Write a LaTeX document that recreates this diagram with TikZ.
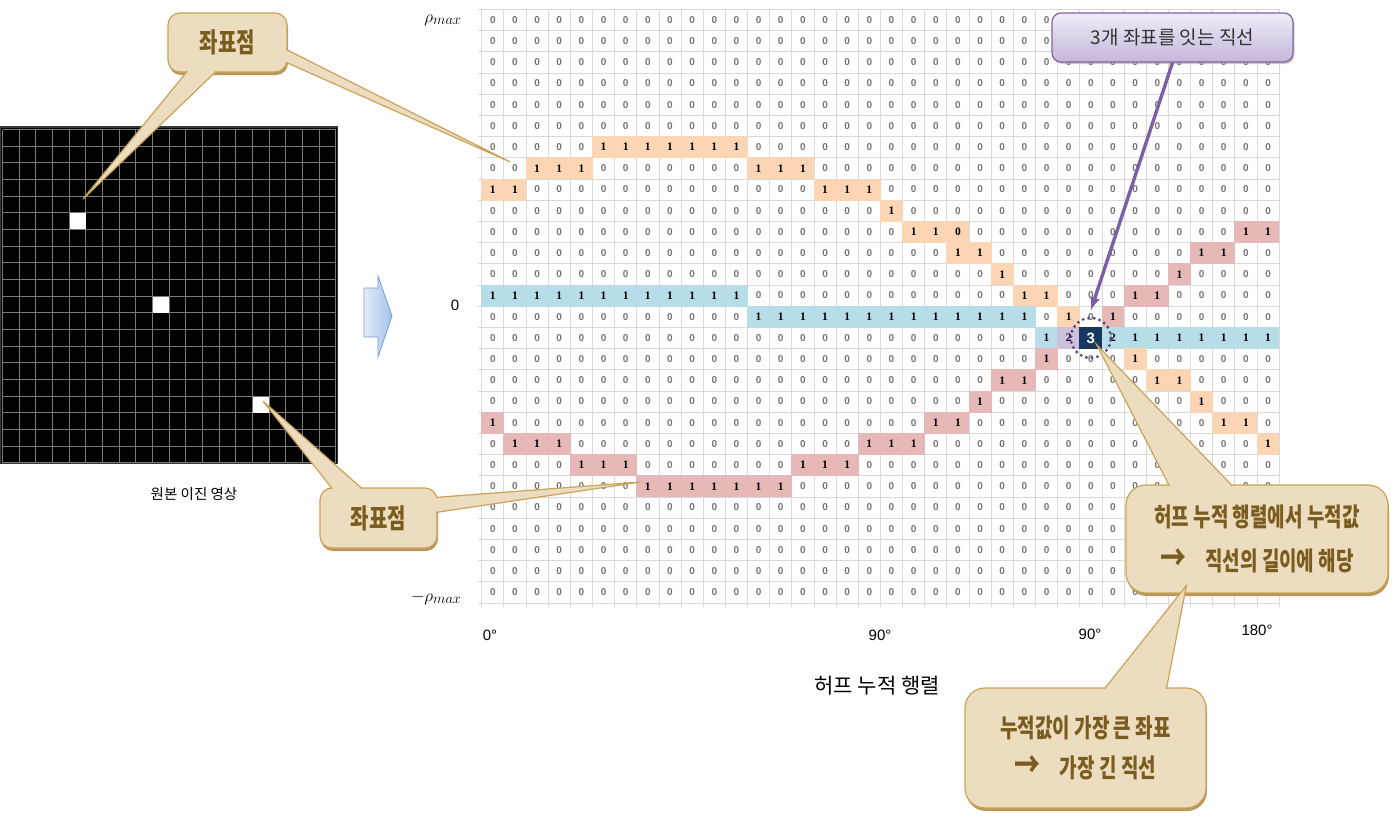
\documentclass[tikz,border=0pt]{standalone}
\usepackage{fontspec}
\setmainfont{Liberation Sans}
\newfontfamily\krfont{Noto Sans CJK KR}
\newfontfamily\onefont{Liberation Serif}
\usetikzlibrary{calc,shadows}

\definecolor{hfOrange}{HTML}{FCD5B4}
\definecolor{hfRed}{HTML}{E6B9B8}
\definecolor{hfBlue}{HTML}{B7DEE8}
\definecolor{hfPurple}{HTML}{CCC0DA}
\definecolor{hfNavy}{HTML}{17375E}
\definecolor{gridGray}{HTML}{D9D9D9}
\definecolor{zeroGray}{HTML}{757575}
\definecolor{noteFill}{HTML}{ECDDC1}
\definecolor{noteLine}{HTML}{C9A458}
\definecolor{noteText}{HTML}{7A5C1E}
\definecolor{noteShade}{HTML}{B8975A}
\definecolor{lilacLine}{HTML}{8064A2}
\definecolor{lilacTop}{HTML}{F1ECF7}
\definecolor{lilacBot}{HTML}{C5B6DB}
\definecolor{lilacArrow}{HTML}{7E5FA6}
\definecolor{ringPurple}{HTML}{5B3F8C}
\definecolor{arrowLeft}{HTML}{E3ECF8}
\definecolor{arrowRight}{HTML}{A4C2EC}
\definecolor{arrowLine}{HTML}{7A9CD0}

\newcommand\tallkr[1]{\scalebox{1}[1.35]{#1}}

\tikzset{
  hcell/.style={minimum width=22.15pt, minimum height=21.2pt, inner sep=0pt},
  cell0/.style={hcell, text=zeroGray, font=\bfseries\fontsize{10}{10}\selectfont},
  cellhit/.style={hcell, minimum width=22.9pt, minimum height=22pt,
    font=\onefont\bfseries\fontsize{11.5}{11.5}\selectfont},
  cello/.style={cellhit, fill=hfOrange},
  cellr/.style={cellhit, fill=hfRed},
  cellb/.style={cellhit, fill=hfBlue},
  cellp/.style={cellhit, fill=hfPurple},
  celln/.style={cellhit, fill=hfNavy, text=white, font=\bfseries\fontsize{15}{15}\selectfont},
  hgrid/.style={draw=gridGray, line width=0.8pt},
  pixgrid/.style={draw=black!52, line width=0.9pt},
  pixel/.style={fill=white, minimum size=16pt, inner sep=0pt},
  notebox/.style={draw=noteLine, fill=noteFill, line width=1.2pt, rounded corners=12pt,
    text=noteText, align=center,
    drop shadow={shadow xshift=1pt, shadow yshift=-3pt, fill=noteShade, opacity=1}},
  notetip/.style={draw=noteLine, fill=noteFill, line width=1.2pt},
  lilacbox/.style={draw=lilacLine, line width=1.2pt, rounded corners=9pt,
    top color=lilacTop, bottom color=lilacBot, text=black!80,
    font=\krfont\fontsize{19}{19}\selectfont,
    drop shadow={shadow xshift=1.5pt, shadow yshift=-2pt, fill=black!40, opacity=.5}}
}

\begin{document}
\begin{tikzpicture}[x=1pt, y=-1pt]
    \fill[white, use as bounding box] (0,0) rectangle (1395,830);

    % binary source image
    \begin{scope}[shift={(2.5,129.5)}, x=16.67pt, y=-16.67pt]
        \fill[black] (-0.15,-0.15) rectangle (20.1,20.05);
        \foreach \i in {0,...,20} {
            \draw[pixgrid] (\i,0) -- (\i,20);
            \draw[pixgrid] (0,\i) -- (20,\i);
        }
        \draw[black!78, line width=1.2pt] (-0.15,-0.15) rectangle (20.1,20.05);
        \node[pixel] (pxA) at (4.5,5.5) {};
        \node[pixel] (pxB) at (9.5,10.5) {};
        \node[pixel] (pxC) at (15.5,16.5) {};
        \coordinate (pixA) at (4.83,4.17);
        \coordinate (pixC) at (15.63,16.29);
    \end{scope}
    \node[font=\krfont\fontsize{14.5}{14.5}\selectfont] (srcTitle) at (194,494) {원본 이진 영상};

    % block arrow
    \shade[left color=arrowLeft, right color=arrowRight, draw=arrowLine, line width=0.8pt]
        (364,288) -- (378,288) -- (378,276) -- (392,316) -- (378,357) -- (378,337) -- (364,337) -- cycle;

    % hough accumulator
    \begin{scope}[shift={(481.7,9.3)}, x=22.15pt, y=-21.2pt]
        \foreach \r in {0,...,27}
            \foreach \c in {0,...,35}
                \node[cell0] (z\c-\r) at (\c+.5,\r+.5) {0};
        \foreach \i in {0,...,36}
            \draw[hgrid] (\i,0) -- (\i,28.2);
        \foreach \j in {0,...,28}
            \draw[hgrid] (-0.15,\j) -- (36,\j);
        \foreach \r/\a/\b/\s/\t in {6/5/11/o/1, 7/2/4/o/1, 7/12/14/o/1, 8/0/1/o/1, 8/15/17/o/1,
                9/18/18/o/1, 10/19/20/o/1, 10/21/21/o/0, 10/34/35/r/1, 11/21/22/o/1, 11/32/33/r/1,
                12/23/23/o/1, 12/31/31/r/1, 13/0/11/b/1, 13/24/25/o/1, 13/29/30/r/1,
                14/12/24/b/1, 14/26/26/o/1, 14/28/28/r/1, 15/25/25/b/1, 15/26/26/p/2,
                15/28/28/b/2, 15/29/35/b/1, 16/25/25/r/1, 16/29/29/o/1, 17/23/24/r/1,
                17/30/31/o/1, 18/22/22/r/1, 18/32/32/o/1, 19/0/0/r/1, 19/20/21/r/1,
                19/33/34/o/1, 20/1/3/r/1, 20/17/19/r/1, 20/35/35/o/1, 21/4/6/r/1,
                21/14/16/r/1, 22/7/13/r/1}
            \foreach \c in {\a,...,\b}
                \node[cell\s] (h\c-\r) at (\c+.5,\r+.5) {\t};
        \node[celln] (peak) at (27.5,15.5) {3};
        \coordinate (hitA) at (1.28,7.2);
        \coordinate (hitB) at (7.15,22.3);
    \end{scope}

    % axis labels
    \node[anchor=east, font=\fontsize{19}{19}\selectfont] (rhoTop) at (465,20) {$\rho_{max}$};
    \node[font=\fontsize{15}{15}\selectfont] (rhoZero) at (455,305) {0};
    \node[anchor=east, font=\fontsize{19}{19}\selectfont] (rhoBot) at (465,598) {$-\rho_{max}$};
    \node[font=\fontsize{15}{15}\selectfont] (degA) at (490,635) {0°};
    \node[font=\fontsize{15}{15}\selectfont] (degB) at (880,635) {90°};
    \node[font=\fontsize{15}{15}\selectfont] (degC) at (1090,634) {90°};
    \node[font=\fontsize{15}{15}\selectfont] (degD) at (1257,630) {180°};
    \node[font=\krfont\fontsize{21}{21}\selectfont] (accTitle) at (877,686) {허프 누적 행렬};

    % line through the three points
    \node[circle, draw=ringPurple, line width=3.2pt, dash pattern=on 0pt off 5.6pt,
        line cap=round, minimum size=40pt] (ring) at (peak) {};
    \node[lilacbox, minimum width=241pt, minimum height=49pt] (lineTag) at (1172.5,37.5) {3개 좌표를 잇는 직선};
    \draw[-latex, lilacArrow, line width=3.4pt] (lineTag.south) -- ([yshift=6pt]ring.north);

    % point callouts
    \node[notebox, minimum width=119pt, minimum height=59pt,
        font=\krfont\bfseries\fontsize{20}{20}\selectfont] (tagTop) at (227.5,42.5) {\tallkr{좌표점}};
    \filldraw[notetip] ($(tagTop.south west)+(20,-1.5)$) -- (pixA) -- ($(tagTop.south west)+(49,-1.5)$);
    \filldraw[notetip] ($(tagTop.north east)+(-1.5,37)$) -- (hitA) -- ($(tagTop.north east)+(-1.5,50)$);

    \node[notebox, minimum width=117pt, minimum height=60pt,
        font=\krfont\bfseries\fontsize{20}{20}\selectfont] (tagLow) at (378.5,518) {\tallkr{좌표점}};
    \filldraw[notetip] ($(tagLow.north west)+(13,1.5)$) -- (pixC) -- ($(tagLow.north west)+(43,1.5)$);
    \filldraw[notetip] ($(tagLow.north east)+(-1.5,10)$) -- (hitB) -- ($(tagLow.north east)+(-1.5,25)$);

    % accumulator callouts
    \node[notebox, rounded corners=20pt, minimum width=262pt, minimum height=108pt,
        font=\krfont\bfseries\fontsize{19}{44}\selectfont] (sumTag) at (1257,539)
        {\tallkr{허프 누적 행렬에서 누적값}\\\tallkr{{\fontsize{26}{26}\selectfont →}\quad 직선의 길이에 해당}};
    \filldraw[notetip] ($(sumTag.north west)+(44,1.5)$) -- ($(peak.center)+(6,7)$) -- ($(sumTag.north west)+(107,1.5)$);

    \node[notebox, rounded corners=20pt, minimum width=241pt, minimum height=120pt,
        font=\krfont\bfseries\fontsize{19}{40}\selectfont] (maxTag) at (1085.5,748)
        {\tallkr{누적값이 가장 큰 좌표}\\\tallkr{{\fontsize{26}{26}\selectfont →}\quad 가장 긴 직선}};
    \filldraw[notetip] ($(maxTag.north west)+(140,1.5)$) -- ($(sumTag.south west)+(61,-8)$) -- ($(maxTag.north west)+(202,1.5)$);
\end{tikzpicture}
\end{document}
